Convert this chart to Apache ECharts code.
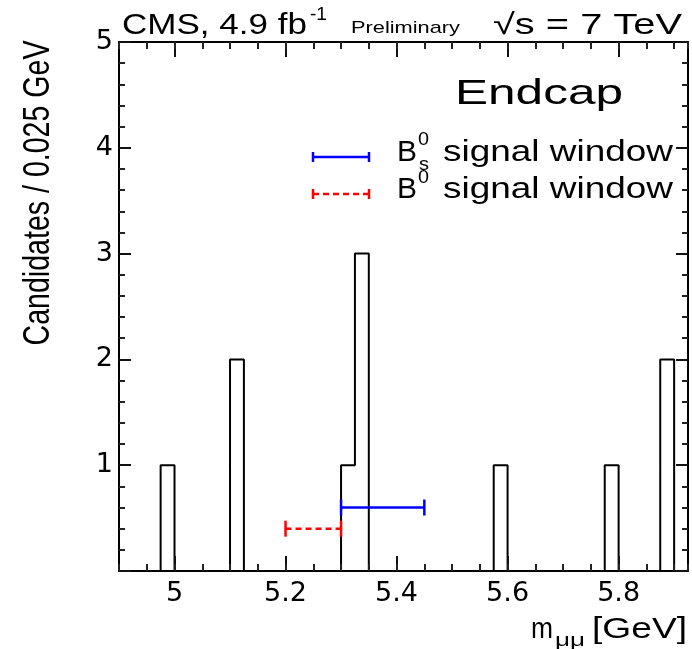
<!DOCTYPE html>
<html>
<head>
<meta charset="utf-8">
<title>Endcap</title>
<script src="https://cdn.jsdelivr.net/npm/echarts@6/dist/echarts.min.js"></script>
<style>
html, body { margin: 0; padding: 0; background: #fff; }
#chart { width: 692px; height: 649px; }
</style>
</head>
<body>
<div id="chart"></div>
<script>
// histogram: one bin per 0.025 GeV, starting at 4.9
var binLow = 4.9;
var binWidth = 0.025;
var xMax = 5.925;
var binCounts = [0,0,0,1,0,0,0,0,2,0,0,0,0,0,0,0,1,3,0,0,0,0,0,0,0,0,0,1,0,0,0,0,0,0,0,1,0,0,0,2,0];

// signal windows: [low, high, drawn at height]
var bsWindow = [5.3, 5.45, 0.6];
var b0Window = [5.2, 5.3, 0.4];

// axis ticks
var xMajorTicks = [5, 5.2, 5.4, 5.6, 5.8];
var yMax = 5;

var myChart = echarts.init(document.getElementById('chart'));

// outline points for the step line
var histPoints = [];
for (var i = 0; i < binCounts.length; i++) {
	histPoints.push([binLow + i * binWidth, binCounts[i]]);
}
histPoints.push([xMax, binCounts[binCounts.length - 1]]);

var TXT_FONT = '"Liberation Sans", Arial, sans-serif';
var LBL_FONT = '"DejaVu Sans", sans-serif';

// text is stretched sideways in the original, fit each piece to its width
var measureCtx = document.createElement('canvas').getContext('2d');
function txt(str, x, y, size, width, extra) {
	var font = size + 'px ' + TXT_FONT;
	measureCtx.font = font;
	var el = {
		type: 'text',
		x: x,
		y: y,
		scaleX: width / measureCtx.measureText(str).width,
		silent: true,
		z: 100,
		style: {
			text: str,
			font: font,
			fill: '#000',
			textAlign: 'left',
			textVerticalAlign: 'middle',
			align: 'left',
			verticalAlign: 'middle'
		}
	};
	if (extra) {
		for (var k in extra) el[k] = extra[k];
	}
	return el;
}

function legendLine(x1, x2, y, color, dash) {
	var st = { stroke: color, lineWidth: 2.5 };
	var capSt = { stroke: color, lineWidth: 2.5 };
	if (dash) st.lineDash = dash;
	return {
		type: 'group',
		silent: true,
		children: [
			{ type: 'line', shape: { x1: x1, y1: y, x2: x2, y2: y }, style: st },
			{ type: 'line', shape: { x1: x1, y1: y - 5, x2: x1, y2: y + 5 }, style: capSt },
			{ type: 'line', shape: { x1: x2, y1: y - 5, x2: x2, y2: y + 5 }, style: capSt }
		]
	};
}

// window drawn as a two-point line with bar-shaped end caps
function windowSeries(name, win, color, dash) {
	return {
		name: name,
		type: 'line',
		xAxisIndex: 0,
		yAxisIndex: 0,
		symbol: 'rect',
		symbolSize: [2.5, 16],
		showSymbol: true,
		z: 5,
		itemStyle: { color: color, borderWidth: 0 },
		lineStyle: { color: color, width: 2.5, type: dash || 'solid' },
		data: [[win[0], win[2]], [win[1], win[2]]]
	};
}

function xAxisDef(pos, major) {
	var ax = {
		type: 'value',
		position: pos,
		min: binLow,
		max: xMax,
		z: 50,
		splitLine: { show: false },
		axisLine: { show: major, onZero: false, lineStyle: { color: '#000', width: 2 } },
		axisLabel: { show: false }
	};
	if (major) {
		ax.axisTick = { show: true, inside: true, length: 15, lineStyle: { color: '#111', width: 2 }, customValues: xMajorTicks };
		if (pos === 'bottom') {
			ax.axisLabel = {
				show: true,
				customValues: xMajorTicks,
				margin: 9,
				color: '#000',
				fontFamily: LBL_FONT,
				fontSize: 27
			};
		}
	} else {
		ax.interval = 0.05;
		ax.axisTick = { show: true, inside: true, length: 7, lineStyle: { color: '#222', width: 2 } };
	}
	return ax;
}

function yAxisDef(pos) {
	return {
		type: 'value',
		position: pos,
		min: 0,
		max: yMax,
		interval: 1,
		z: 50,
		splitLine: { show: false },
		axisLine: { show: true, onZero: false, lineStyle: { color: '#000', width: 2 } },
		axisTick: { show: true, inside: true, length: 12, lineStyle: { color: '#111', width: 2 } },
		minorTick: { show: true, splitNumber: 5, length: 6, lineStyle: { color: '#222', width: 2 } },
		axisLabel: {
			show: pos === 'left',
			margin: 6,
			color: '#000',
			fontFamily: LBL_FONT,
			fontSize: 27,
			formatter: function (v) { return v === 0 ? '' : v; }
		}
	};
}

var option = {
	animation: false,
	backgroundColor: '#fff',
	grid: { left: 119, right: 4, top: 42, bottom: 78 },
	xAxis: [
		xAxisDef('bottom', true),
		xAxisDef('bottom', false),
		xAxisDef('top', true),
		xAxisDef('top', false)
	],
	yAxis: [yAxisDef('left'), yAxisDef('right')],
	graphic: [
		txt('CMS, 4.9 fb', 122, 25.5, 29, 185),
		txt('-1', 310, 15, 18, 17),
		txt('Preliminary', 351, 28.5, 17, 109),
		txt('\u221As = 7 TeV', 493, 25.5, 29, 189),
		txt('Endcap', 455, 94.5, 35, 168),
		legendLine(313, 369, 157, '#0000ff'),
		txt('B', 397, 153, 29, 20),
		txt('0', 418, 140, 19, 11),
		txt('s', 419, 165, 19, 10),
		txt('signal window', 443, 153, 29, 230),
		legendLine(313, 369, 194, '#ff0000', [6, 4]),
		txt('B', 397, 190, 29, 20),
		txt('0', 418, 178, 19, 11),
		txt('signal window', 443, 190, 29, 230),
		txt('m', 531, 629.5, 29, 22),
		txt('\u03BC\u03BC', 555, 641, 19, 30),
		txt('[GeV]', 592, 629.5, 29, 95),
		txt('Candidates / 0.025 GeV', 38.5, 193, 29, 305, {
			rotation: Math.PI / 2,
			scaleY: 1.25,
			style: {
				text: 'Candidates / 0.025 GeV',
				font: '29px ' + TXT_FONT,
				fill: '#000',
				textAlign: 'center',
				textVerticalAlign: 'middle',
				align: 'center',
				verticalAlign: 'middle'
			}
		})
	],
	series: [{
		name: 'Candidates',
		type: 'line',
		step: 'end',
		xAxisIndex: 0,
		yAxisIndex: 0,
		symbol: 'none',
		clip: false,
		lineStyle: { color: '#000', width: 2 },
		data: histPoints
	},
		windowSeries('Bs window', bsWindow, '#0000ff'),
		windowSeries('B0 window', b0Window, '#ff0000', [6, 4])
	]
};

myChart.setOption(option);
window.onresize = myChart.resize;
</script>
</body>
</html>
